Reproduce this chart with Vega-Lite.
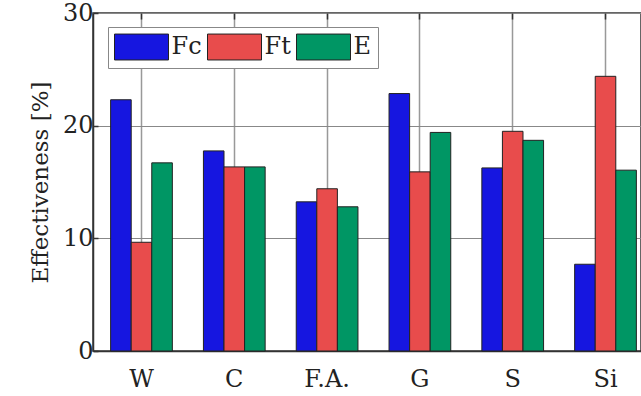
{
  "$schema": "https://vega.github.io/schema/vega-lite/v6.json",
  "width": 548,
  "height": 338,
  "autosize": {"type": "none"},
  "padding": {"left": 93, "top": 13, "right": 0, "bottom": 45},
  "background": "white",
  "config": {
    "font": "DejaVu Serif",
    "view": {"stroke": "#333", "strokeWidth": 1.5},
    "axis": {"labelFont": "DejaVu Serif", "titleFont": "DejaVu Serif", "labelColor": "#222", "titleColor": "#222"},
    "legend": {"labelFont": "DejaVu Serif"}
  },
  "data": {
    "values": [
      {"cat": "W", "series": "Fc", "value": 22.3},
      {"cat": "W", "series": "Ft", "value": 9.65},
      {"cat": "W", "series": "E", "value": 16.7},
      {"cat": "C", "series": "Fc", "value": 17.76},
      {"cat": "C", "series": "Ft", "value": 16.34},
      {"cat": "C", "series": "E", "value": 16.34},
      {"cat": "F.A.", "series": "Fc", "value": 13.24},
      {"cat": "F.A.", "series": "Ft", "value": 14.4},
      {"cat": "F.A.", "series": "E", "value": 12.8},
      {"cat": "G", "series": "Fc", "value": 22.85},
      {"cat": "G", "series": "Ft", "value": 15.9},
      {"cat": "G", "series": "E", "value": 19.4},
      {"cat": "S", "series": "Fc", "value": 16.25},
      {"cat": "S", "series": "Ft", "value": 19.5},
      {"cat": "S", "series": "E", "value": 18.7},
      {"cat": "Si", "series": "Fc", "value": 7.7},
      {"cat": "Si", "series": "Ft", "value": 24.38},
      {"cat": "Si", "series": "E", "value": 16.05}
    ]
  },
  "resolve": {"axis": {"x": "independent"}},
  "layer": [
    {
      "mark": {"type": "bar", "stroke": "#222", "strokeWidth": 1},
      "encoding": {
        "x": {
          "field": "cat",
          "type": "nominal",
          "sort": ["W", "C", "F.A.", "G", "S", "Si"],
          "scale": {"range": [0, 561], "paddingInner": 0.335, "paddingOuter": 0.19},
          "axis": {
            "title": null,
            "labelAngle": 0,
            "labelFontSize": 24,
            "labelPadding": 16,
            "ticks": false,
            "grid": true,
            "gridColor": "#999",
            "gridWidth": 1.5,
            "gridOpacity": 1,
            "domainColor": "#333",
            "domainWidth": 1.5
          }
        },
        "xOffset": {"field": "series", "type": "nominal", "sort": ["Fc", "Ft", "E"]},
        "y": {
          "field": "value",
          "type": "quantitative",
          "scale": {"domain": [0, 30], "nice": false},
          "axis": {
            "title": "Effectiveness [%]",
            "titleFontSize": 23,
            "titleFontWeight": "normal",
            "titlePadding": 10,
            "values": [0, 10, 20, 30],
            "labelFontSize": 24,
            "labelPadding": 5,
            "ticks": true,
            "tickSize": -5,
            "tickColor": "#333",
            "tickWidth": 1.5,
            "grid": true,
            "gridColor": "#888",
            "gridWidth": 1,
            "gridOpacity": 1,
            "domainColor": "#333",
            "domainWidth": 1.5
          }
        },
        "color": {
          "field": "series",
          "type": "nominal",
          "scale": {"domain": ["Fc", "Ft", "E"], "range": ["#1616e0", "#e84c4c", "#009664"]},
          "legend": {
            "title": null,
            "orient": "none",
            "legendX": 15,
            "legendY": 14,
            "direction": "horizontal",
            "fillColor": "white",
            "strokeColor": "#888",
            "padding": 6,
            "symbolType": "M-2,-0.96H2V0.96H-2Z",
            "symbolSize": 729,
            "symbolOffset": 13.5,
            "symbolStrokeColor": "#222",
            "symbolStrokeWidth": 1,
            "symbolOpacity": 1,
            "labelFontSize": 24,
            "labelColor": "#222",
            "labelOffset": 16,
            "columnPadding": 3
          }
        }
      }
    },
    {
      "mark": {"type": "bar", "opacity": 0},
      "encoding": {
        "x": {
          "field": "cat",
          "type": "nominal",
          "sort": ["W", "C", "F.A.", "G", "S", "Si"],
          "axis": {
            "orient": "top",
            "title": null,
            "labels": false,
            "grid": false,
            "domain": false,
            "ticks": true,
            "tickSize": -6,
            "tickColor": "#333",
            "tickWidth": 1.5
          }
        },
        "xOffset": {"field": "series", "type": "nominal", "sort": ["Fc", "Ft", "E"]},
        "y": {"field": "value", "type": "quantitative"}
      }
    }
  ]
}
